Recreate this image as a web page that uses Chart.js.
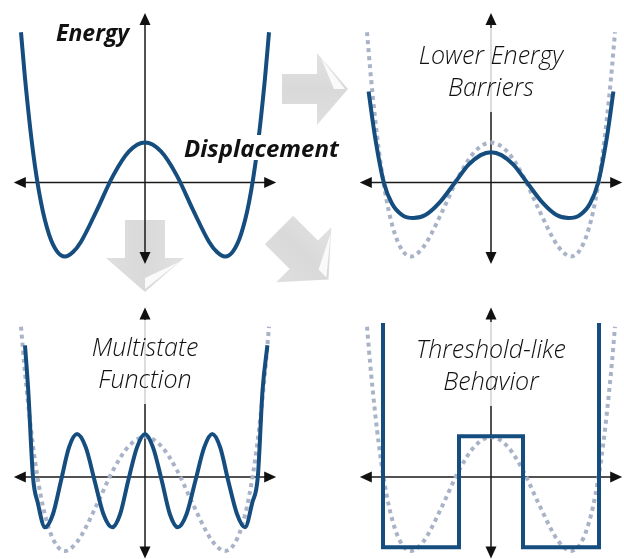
<!DOCTYPE html>
<html>
<head>
<meta charset="utf-8">
<script src="https://cdn.jsdelivr.net/npm/chart.js@4.4.1/dist/chart.umd.min.js"></script>
<style>
  html, body { margin: 0; padding: 0; background: #fff; }
  #wrap { position: relative; width: 624px; height: 559px; overflow: hidden; }
  #c { position: absolute; left: 0; top: 0; }
  .lbl { position: absolute; color: #111; font-family: "Open Sans", "Noto Sans", sans-serif; font-style: italic; white-space: nowrap; }
  .axisName { font-weight: 700; }
  .panelName { width: 180px; text-align: center; font-size: 25px; line-height: 32px; font-weight: 300;
               padding: 10px 0; background: rgba(255,255,255,0.8); }
</style>
</head>
<body>
<div id="wrap">
  <canvas id="c" width="624" height="559"></canvas>
  <div class="lbl axisName" style="left:56px;top:21px;font-size:23px;line-height:23px;">Energy</div>
  <div class="lbl axisName" style="left:182px;top:135px;font-size:24px;line-height:25px;background:#fff;padding:0 2px;">Displacement</div>
  <div class="lbl panelName" style="left:401px;top:28px;">Lower Energy<br>Barriers</div>
  <div class="lbl panelName" style="left:55px;top:320px;">Multistate<br>Function</div>
  <div class="lbl panelName" style="left:401px;top:322px;">Threshold-like<br>Behavior</div>
</div>
<script>
// ===============================
// DATA (displacement x, energy E)
// ===============================

// original double well (panel 1, dotted reference in the others)
const wellX = [-1.55, -1.5, -1.4, -1.3, -1.2, -1.1, -1.0, -0.9, -0.8, -0.6, -0.4, -0.2, 0,
               0.2, 0.4, 0.6, 0.8, 0.9, 1.0, 1.1, 1.2, 1.3, 1.4, 1.5, 1.55];
const wellE = [2.03, 1.41, 0.42, -0.27, -0.70, -0.93, -1.0, -0.94, -0.80, -0.37, 0.09, 0.42, 0.54,
               0.42, 0.09, -0.37, -0.80, -0.94, -1.0, -0.93, -0.70, -0.27, 0.42, 1.41, 2.03];

// lower energy barriers
const lowX = [-1.53, -1.45, -1.34, -1.24, -1.11, -0.97, -0.82, -0.65, -0.45, -0.28, -0.13, 0,
              0.13, 0.28, 0.45, 0.65, 0.82, 0.97, 1.11, 1.24, 1.34, 1.45, 1.53];
const lowE = [1.23, 0.62, 0, -0.28, -0.44, -0.48, -0.44, -0.28, 0, 0.24, 0.37, 0.41,
              0.37, 0.24, 0, -0.28, -0.44, -0.48, -0.44, -0.28, 0, 0.62, 1.23];

// multistate function
const multiX = [-1.5, -1.46, -1.4, -1.34, -1.25, -1.15, -1.05, -0.95, -0.85, -0.74, -0.63, -0.52, -0.41,
                -0.31, -0.21, -0.10, 0, 0.10, 0.21, 0.31, 0.41, 0.52, 0.63, 0.74, 0.84,
                0.94, 1.04, 1.15, 1.25, 1.34, 1.41, 1.47, 1.53];
const multiE = [1.78, 1.18, 0, -0.35, -0.68, -0.50, -0.05, 0.40, 0.58, 0.40, -0.05, -0.50, -0.68,
                -0.50, -0.05, 0.40, 0.58, 0.40, -0.05, -0.50, -0.68, -0.50, -0.05, 0.40, 0.58,
                0.40, -0.05, -0.50, -0.68, -0.35, 0, 1.18, 1.78];

// threshold-like behaviour (square well)
const stepX = [-1.35, -1.35, -0.40, -0.40, 0.40, 0.40, 1.35, 1.35];
const stepE = [2.08, -0.95, -0.95, 0.55, 0.55, -0.95, -0.95, 2.08];

// axis arrows extent (data units)
const axisX = [-1.64, 1.64];
const axisE = [-1.1, 2.29];

// ===============================
// LAYOUT
// ===============================
const W = 624, H = 559;
const PX_X = 80, PX_E = 74;          // pixels per unit
const colX = [145, 491];             // vertical axes
const rowY = [182.5, 477];           // horizontal axes

function xRange(ox) { return { min: -ox / PX_X, max: (W - ox) / PX_X }; }
function yRange(oy) { return { min: -(H - oy) / PX_E, max: oy / PX_E }; }

function pts(xs, ys) {
    return xs.map((x, i) => ({ x: x, y: ys[i] }));
}

const solid = {
    borderColor: '#154d7f', borderWidth: 4, pointRadius: 0, fill: false,
    cubicInterpolationMode: 'monotone', clip: false
};
const dotted = {
    borderColor: '#a9b3c8', borderWidth: 4, borderDash: [4, 4], pointRadius: 0, fill: false,
    cubicInterpolationMode: 'monotone', clip: false
};

// ===============================
// DECORATION (axes + gray arrows)
// ===============================
function arrowHead(ctx, tx, ty, dx, dy) {
    const len = 12, hw = 5.5;
    ctx.beginPath();
    ctx.moveTo(tx, ty);
    ctx.lineTo(tx - dx * len - dy * hw, ty - dy * len + dx * hw);
    ctx.lineTo(tx - dx * len + dy * hw, ty - dy * len - dx * hw);
    ctx.closePath();
    ctx.fill();
}

function drawAxes(ctx, xs, ys) {
    const ox = xs.getPixelForValue(0), oy = ys.getPixelForValue(0);
    const x1 = xs.getPixelForValue(axisX[0]), x2 = xs.getPixelForValue(axisX[1]);
    const yTop = ys.getPixelForValue(axisE[1]), yBot = ys.getPixelForValue(axisE[0]);
    ctx.strokeStyle = '#1a1a1a';
    ctx.fillStyle = '#111';
    ctx.lineWidth = 1.5;
    ctx.beginPath();
    ctx.moveTo(x1 + 6, oy); ctx.lineTo(x2 - 6, oy);
    ctx.moveTo(ox, yTop + 6); ctx.lineTo(ox, yBot - 6);
    ctx.stroke();
    arrowHead(ctx, x1, oy, -1, 0);
    arrowHead(ctx, x2, oy, 1, 0);
    arrowHead(ctx, ox, yTop, 0, -1);
    arrowHead(ctx, ox, yBot, 0, 1);
}

function blockArrow(ctx, x0, y0, deg, bodyLen, headLen, bodyHW, headHW) {
    const a = deg * Math.PI / 180;
    const ux = Math.cos(a), uy = Math.sin(a), px = -uy, py = ux;
    const P = (s, t) => [x0 + ux * s + px * t, y0 + uy * s + py * t];
    const L = bodyLen + headLen;
    const shape = [P(0, -bodyHW), P(bodyLen, -bodyHW), P(bodyLen, -headHW), P(L, 0),
                   P(bodyLen, headHW), P(bodyLen, bodyHW), P(0, bodyHW)];
    const g0 = P(0, -headHW), g1 = P(0, headHW);
    const grad = ctx.createLinearGradient(g0[0], g0[1], g1[0], g1[1]);
    grad.addColorStop(0, '#e2e2e2');
    grad.addColorStop(0.5, '#d9d9d9');
    grad.addColorStop(1, '#dfdfdf');
    ctx.fillStyle = grad;
    ctx.beginPath();
    shape.forEach((p, i) => i ? ctx.lineTo(p[0], p[1]) : ctx.moveTo(p[0], p[1]));
    ctx.closePath();
    ctx.fill();
    // folded highlight on the head
    const hl = [P(L - 3, 0), P(bodyLen + 4, -headHW + 5), P(L - 14, 0)];
    ctx.fillStyle = 'rgba(255,255,255,0.85)';
    ctx.beginPath();
    hl.forEach((p, i) => i ? ctx.lineTo(p[0], p[1]) : ctx.moveTo(p[0], p[1]));
    ctx.closePath();
    ctx.fill();
}

const panels = [['xL', 'yT'], ['xR', 'yT'], ['xL', 'yB'], ['xR', 'yB']];

const decor = {
    id: 'decor',
    beforeDatasetsDraw(chart) {
        const ctx = chart.ctx;
        ctx.save();
        blockArrow(ctx, 282, 89, 0, 35, 31, 15, 36);
        blockArrow(ctx, 145, 220, 90, 38, 34, 20, 39);
        blockArrow(ctx, 279, 230, 45, 35, 35, 20, 39);
        panels.forEach(p => drawAxes(ctx, chart.scales[p[0]], chart.scales[p[1]]));
        ctx.restore();
    }
};

// ===============================
// CHART
// ===============================
const hidden = { type: 'linear', display: false };

new Chart(document.getElementById('c'), {
    type: 'line',
    data: {
        datasets: [
            Object.assign({ data: pts(wellX, wellE), xAxisID: 'xL', yAxisID: 'yT' }, solid),
            Object.assign({ data: pts(lowX, lowE), xAxisID: 'xR', yAxisID: 'yT' }, solid),
            Object.assign({ data: pts(multiX, multiE), xAxisID: 'xL', yAxisID: 'yB' }, solid),
            Object.assign({ data: pts(stepX, stepE), xAxisID: 'xR', yAxisID: 'yB' }, solid,
                          { cubicInterpolationMode: 'default', tension: 0, borderJoinStyle: 'miter' }),
            Object.assign({ data: pts(wellX, wellE), xAxisID: 'xR', yAxisID: 'yT' }, dotted),
            Object.assign({ data: pts(wellX, wellE), xAxisID: 'xL', yAxisID: 'yB' }, dotted),
            Object.assign({ data: pts(wellX, wellE), xAxisID: 'xR', yAxisID: 'yB' }, dotted)
        ]
    },
    options: {
        responsive: false,
        animation: false,
        devicePixelRatio: 1,
        layout: { padding: 0 },
        plugins: { legend: { display: false }, tooltip: { enabled: false }, title: { display: false } },
        scales: {
            xL: Object.assign({}, hidden, xRange(colX[0])),
            xR: Object.assign({}, hidden, xRange(colX[1])),
            yT: Object.assign({}, hidden, yRange(rowY[0])),
            yB: Object.assign({}, hidden, yRange(rowY[1]))
        }
    },
    plugins: [decor]
});
</script>
</body>
</html>
